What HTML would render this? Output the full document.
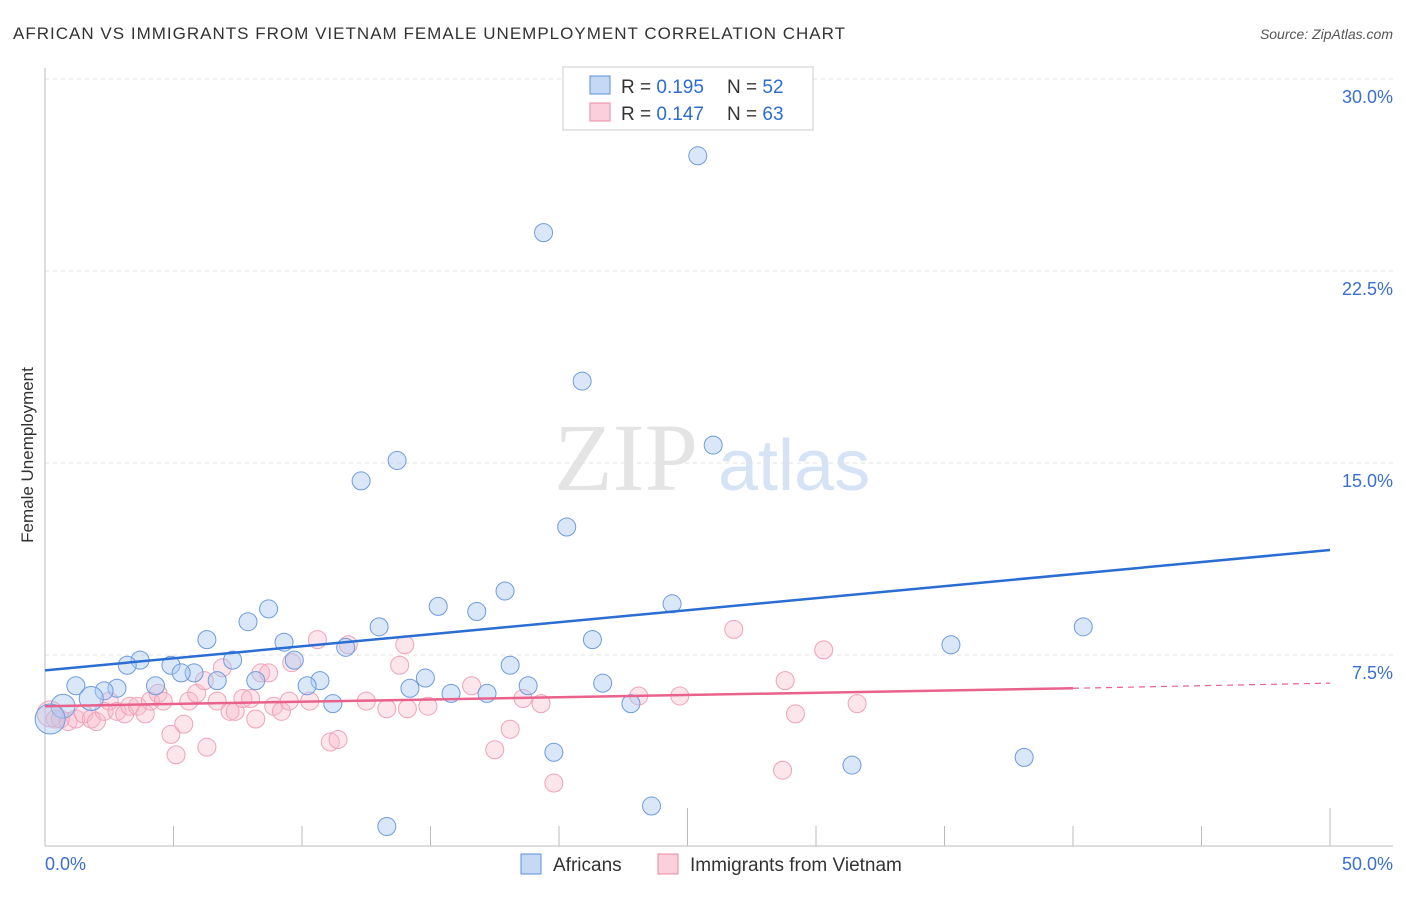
<!DOCTYPE html>
<html><head><meta charset="utf-8"><style>
body{margin:0;background:#fff;font-family:"Liberation Sans",sans-serif;}
</style></head><body>
<svg width="1406" height="892" xmlns="http://www.w3.org/2000/svg" style="font-family:'Liberation Sans',sans-serif">
<text x="13" y="39" font-size="17" fill="#333" textLength="832">AFRICAN VS IMMIGRANTS FROM VIETNAM FEMALE UNEMPLOYMENT CORRELATION CHART</text>
<text x="1393" y="39" font-size="14" fill="#555" font-style="italic" text-anchor="end">Source: ZipAtlas.com</text>
<text x="554" y="490" font-size="96" fill="#e4e4e4" font-family="Liberation Serif,serif">ZIP</text>
<text x="718" y="490" font-size="72" fill="#d6e3f5">atlas</text>
<g id="grid"></g>
<line x1="45" y1="68" x2="45" y2="846" stroke="#bbb"/>
<line x1="45" y1="846" x2="1393" y2="846" stroke="#bbb"/>
<g id="ticks"></g>
<text x="33" y="455" font-size="17" fill="#333" transform="rotate(-90 33 455)" text-anchor="middle">Female Unemployment</text>
<text x="45" y="870" font-size="18" fill="#3a6fd0">0.0%</text>
<text x="1393" y="870" font-size="18" fill="#3a6fd0" text-anchor="end">50.0%</text>
<g id="pts"></g>
<g id="lines"></g>
<g>
<rect x="563" y="67" width="250" height="63" fill="#fff" stroke="#ccc"/>
<rect x="590" y="76" width="20" height="18" fill="#c5d9f5" stroke="#5d8fd8"/>
<rect x="590" y="103" width="20" height="18" fill="#fbd0dc" stroke="#e88aa5"/>
<text x="621" y="93" font-size="19" fill="#333">R = <tspan fill="#2d6cd1">0.195</tspan></text>
<text x="727" y="93" font-size="19" fill="#333">N = <tspan fill="#2d6cd1">52</tspan></text>
<text x="621" y="120" font-size="19" fill="#333">R = <tspan fill="#2d6cd1">0.147</tspan></text>
<text x="727" y="120" font-size="19" fill="#333">N = <tspan fill="#2d6cd1">63</tspan></text>
</g>
<g>
<rect x="521" y="854" width="20" height="20" fill="#c5d9f5" stroke="#5d8fd8"/>
<text x="553" y="871" font-size="19" fill="#333">Africans</text>
<rect x="658" y="854" width="20" height="20" fill="#fbd0dc" stroke="#e88aa5"/>
<text x="690" y="871" font-size="19" fill="#333">Immigrants from Vietnam</text>
</g>
</svg>
<script>
const yTicks=[7.5,15,22.5,30];
const yTickLabels=["7.5%","15.0%","22.5%","30.0%"];
const africansX=[25.4,19.4,20.9,26.0,13.7,12.3,20.3,17.9,24.4,15.3,16.8,8.7,7.9,40.4,13.0,6.3,9.3,21.3,11.7,35.25,3.7,3.2,4.9,5.8,5.3,7.3,9.7,18.1,10.7,6.7,8.2,14.8,4.3,2.8,2.3,1.2,14.2,21.7,10.2,15.8,17.2,18.8,11.2,1.8,0.7,0.2,22.8,19.8,31.4,38.1,23.6,13.3];
const africansY=[27.0,24.0,18.2,15.7,15.1,14.3,12.5,10.0,9.5,9.4,9.2,9.3,8.8,8.6,8.6,8.1,8.0,8.1,7.8,7.9,7.3,7.1,7.1,6.8,6.8,7.3,7.3,7.1,6.5,6.5,6.5,6.6,6.3,6.2,6.1,6.3,6.2,6.4,6.3,6.0,6.0,6.3,5.6,5.8,5.5,5.0,5.6,3.7,3.2,3.5,1.6,0.8];
const vietX=[0.2,0.4,0.6,0.9,1.2,1.5,1.8,2.0,2.3,2.5,2.8,3.1,3.3,3.6,3.9,4.1,4.4,4.6,4.9,5.1,5.4,5.6,5.9,6.2,6.3,6.7,6.9,7.2,7.4,7.7,8.0,8.2,8.4,8.7,8.9,9.2,9.5,9.6,10.3,10.6,11.1,11.4,11.8,12.5,13.3,13.8,14.0,14.1,14.9,16.6,17.5,18.1,18.6,19.3,19.8,23.1,24.7,26.8,28.8,29.2,28.7,30.3,31.6];
const vietY=[5.2,5.0,5.0,4.9,5.0,5.2,5.0,4.9,5.3,5.7,5.3,5.2,5.5,5.5,5.2,5.7,6.0,5.7,4.4,3.6,4.8,5.7,6.0,6.5,3.9,5.7,7.0,5.3,5.3,5.8,5.8,5.0,6.8,6.8,5.5,5.3,5.7,7.2,5.7,8.1,4.1,4.2,7.9,5.7,5.4,7.1,7.9,5.4,5.5,6.3,3.8,4.6,5.8,5.6,2.5,5.9,5.9,8.5,6.5,5.2,3.0,7.7,5.6];
const blueLine=[[0,6.9],[50,11.6]];
const pinkLine=[[0,5.5],[40,6.2],[50,6.4]];
const X=v=>45+v/50*1285, Y=v=>847-v/7.5*192;
const NS="http://www.w3.org/2000/svg";
function mk(t,a,p){const e=document.createElementNS(NS,t);for(const k in a)e.setAttribute(k,a[k]);p.appendChild(e);return e;}
const grid=document.getElementById('grid');
yTicks.forEach((t,i)=>{
 const l=mk('line',{x1:45,x2:1393,y1:Y(t),y2:Y(t),stroke:'#e2e2e2','stroke-dasharray':'4,4'},grid);
 
 
 const tx=mk('text',{x:1393,y:Y(t)+24,'font-size':18,fill:'#3a6fd0','text-anchor':'end'},grid);
 tx.textContent=yTickLabels[i];
 
 
});
const ticks=document.getElementById('ticks');
for(let i=1;i<=10;i++){const v=i*5;
 const l=mk('line',{x1:X(v),x2:X(v),y1:i%5==0?808:826,y2:846,stroke:'#bbb'},ticks);
 
 }
const pts=document.getElementById('pts');
vietX.forEach((x,i)=>{const c=mk('circle',{cx:X(x),cy:Y(vietY[i]),r:i==0?13:9,fill:'rgba(248,180,200,0.35)',stroke:'#efa3b9','stroke-width':1},pts);
 
 });
africansX.forEach((x,i)=>{const c=mk('circle',{cx:X(x),cy:Y(africansY[i]),r:i>=43&&i<=45?(i==45?15:12):9,fill:'rgba(170,202,242,0.45)',stroke:'#6f9be0','stroke-width':1},pts);
 
 });
const lines=document.getElementById('lines');
const b=mk('line',{x1:X(blueLine[0][0]),y1:Y(blueLine[0][1]),x2:X(blueLine[1][0]),y2:Y(blueLine[1][1]),stroke:'#2a6dd3','stroke-width':2.5},lines);


const p=mk('line',{x1:X(pinkLine[0][0]),y1:Y(pinkLine[0][1]),x2:X(pinkLine[1][0]),y2:Y(pinkLine[1][1]),stroke:'#e8628c','stroke-width':2.5},lines);


const pd=mk('line',{x1:X(pinkLine[1][0]),y1:Y(pinkLine[1][1]),x2:X(pinkLine[2][0]),y2:Y(pinkLine[2][1]),stroke:'#e8628c','stroke-width':1.2,'stroke-dasharray':'6,5'},lines);


</script>
</body></html>
